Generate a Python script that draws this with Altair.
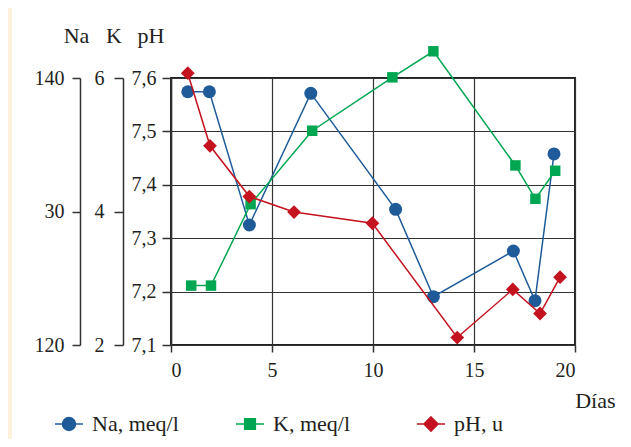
import altair as alt
import pandas as pd

# ---- data ----
na_days = [0.83, 1.9, 3.88, 6.92, 11.12, 12.99, 16.95, 18.02, 18.96]
na_vals = [138.97, 138.97, 128.99, 138.85, 130.16, 123.62, 127.04, 123.32, 134.31]

k_days = [1.0, 1.98, 3.94, 6.99, 10.96, 12.99, 17.05, 18.04, 19.02]
k_vals = [2.89, 2.89, 4.11, 5.21, 6.01, 6.40, 4.69, 4.19, 4.61]

ph_days = [0.83, 1.93, 3.88, 6.09, 9.97, 14.17, 16.92, 18.27, 19.26]
ph_vals = [7.609, 7.473, 7.378, 7.349, 7.328, 7.114, 7.204, 7.159, 7.227]

series_names = ["Na, meq/l", "K, meq/l", "pH, u"]
series_colors = ["#1f5b98", "#00a651", "#c4121f"]
legend_paths = [
    "M-1,0H1M-0.46,0A0.46,0.46 0 1,0 0.46,0A0.46,0.46 0 1,0 -0.46,0Z",
    "M-1,0H1M-0.38,-0.38H0.38V0.38H-0.38Z",
    "M-1,0H1M0,-0.5L0.5,0L0,0.5L-0.5,0Z",
]

x_ticks = [0, 5, 10, 15, 20]
na_ticks = [120, 130, 140]
k_ticks = [2, 4, 6]
ph_ticks = [7.1, 7.2, 7.3, 7.4, 7.5, 7.6]

FONT = "'Liberation Serif', 'Times New Roman', Times, 'DejaVu Serif', serif"
INK = "#231f20"

na_df = pd.DataFrame({"day": na_days, "v": na_vals})
k_df = pd.DataFrame({"day": k_days, "v": k_vals})
ph_df = pd.DataFrame({"day": ph_days, "v": ph_vals})

x_axis = alt.Axis(
    values=x_ticks, tickSize=7, labelPadding=8, grid=True, gridColor="#333333",
    gridWidth=1.2, domain=False, title="Días", titleX=444, titleY=55,
    titleAlign="right", titleBaseline="middle",
)
x_enc = alt.X("day:Q", scale=alt.Scale(domain=[0, 20], nice=False), axis=x_axis)


def y_axis(values, offset, title, title_x, label_expr, tick_size, pad, grid):
    return alt.Axis(
        orient="left", offset=offset, values=values, tickSize=tick_size,
        labelPadding=pad, grid=grid, gridColor="#333333", gridWidth=1.2,
        title=title, titleAngle=0, titleX=title_x, titleY=-36,
        titleAlign="center", titleBaseline="alphabetic", labelExpr=label_expr,
        labelBaseline="middle",
    )


na_layer = alt.Chart(na_df).mark_line(
    color=series_colors[0], strokeWidth=1.5,
    point=alt.OverlayMarkDef(shape="circle", size=169, filled=True, color=series_colors[0], opacity=1),
).encode(
    x=x_enc,
    y=alt.Y("v:Q", scale=alt.Scale(domain=[120, 140], nice=False, zero=False),
            axis=y_axis(na_ticks, 91, "Na", -4,
                        "datum.value == 130 ? '30' : format(datum.value, 'd')", 8, 8, False)),
)

k_layer = alt.Chart(k_df).mark_line(
    color=series_colors[1], strokeWidth=1.5,
    point=alt.OverlayMarkDef(shape="square", size=110, filled=True, color=series_colors[1], opacity=1),
).encode(
    x=x_enc,
    y=alt.Y("v:Q", scale=alt.Scale(domain=[2, 6], nice=False, zero=False),
            axis=y_axis(k_ticks, 48, "K", -9.5, "format(datum.value, 'd')", 9, 10, False)),
)

ph_layer = alt.Chart(ph_df).mark_line(
    color=series_colors[2], strokeWidth=1.5,
    point=alt.OverlayMarkDef(shape="diamond", size=190, filled=True, color=series_colors[2], opacity=1),
).encode(
    x=x_enc,
    y=alt.Y("v:Q", scale=alt.Scale(domain=[7.1, 7.6], nice=False, zero=False),
            axis=y_axis(ph_ticks, 0, "pH", -20.5,
                        "replace(format(datum.value, '.1f'), '.', ',')", 9, 6, True)),
)

legend = alt.Legend(
    orient="none", legendX=-117, legendY=331, direction="horizontal", columns=3,
    title=None, symbolSize=784, symbolStrokeWidth=1.6, symbolOpacity=1,
    labelFont=FONT, labelFontSize=22, labelColor=INK, labelOffset=8,
    columnPadding=53, gridAlign="all", padding=0,
)

legend_layer = alt.Chart(pd.DataFrame({"serie": series_names})).transform_filter(
    "false"
).mark_point(filled=True, size=784, strokeWidth=1.6).encode(
    color=alt.Color("serie:N", scale=alt.Scale(domain=series_names, range=series_colors), legend=legend),
    stroke=alt.Stroke("serie:N", scale=alt.Scale(domain=series_names, range=series_colors), legend=legend),
    shape=alt.Shape("serie:N", scale=alt.Scale(domain=series_names, range=legend_paths), legend=legend),
)

# thin cream strip at the left edge of the page (decoration only)
strip = alt.Chart(alt.Data(values=[{}])).mark_rect(color="#fdf1da").encode(
    x=alt.value(-163), x2=alt.value(-159), y=alt.value(-70), y2=alt.value(361)
)

chart = alt.layer(strip, na_layer, k_layer, ph_layer, legend_layer).resolve_scale(
    y="independent"
).properties(
    width=404, height=267,
    autosize=alt.AutoSizeParams(type="none"),
    padding={"left": 163, "top": 70, "right": 48, "bottom": 94},
    background="white",
).configure_view(
    stroke="#222222", strokeWidth=2,
).configure_axis(
    labelFont=FONT, titleFont=FONT, labelFontSize=20, titleFontSize=22,
    titleFontWeight="normal", labelColor=INK, titleColor=INK,
    tickColor="#333333", domainColor="#333333", tickWidth=1.5, domainWidth=1.5,
)

chart.save("out.html", embed_options={"renderer": "svg", "actions": False})
